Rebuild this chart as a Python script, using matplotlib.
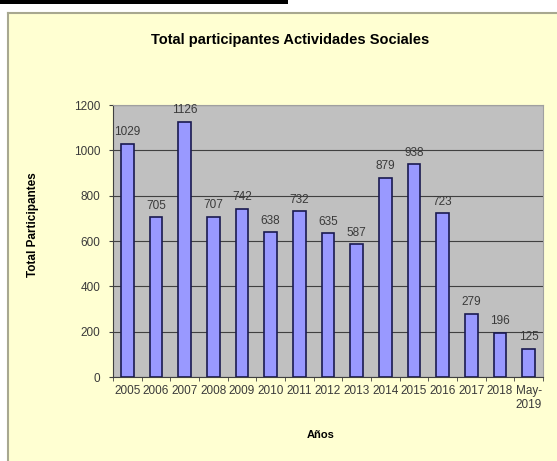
import matplotlib.pyplot as plt
from matplotlib.patches import Rectangle
import numpy as np

plt.rcParams["font.family"] = ["Liberation Sans", "DejaVu Sans"]

years = ["2005", "2006", "2007", "2008", "2009", "2010", "2011", "2012",
         "2013", "2014", "2015", "2016", "2017", "2018", "May-\n2019"]
participantes = [1029, 705, 1126, 707, 742, 638, 732, 635,
                 587, 879, 938, 723, 279, 196, 125]

W, H = 557, 461
fig = plt.figure(figsize=(W / 100, H / 100), dpi=100)
fig.patch.set_facecolor("white")

# chart area background + border
fig.patches.append(Rectangle((8 / W, 0), 1 - 8 / W, 1 - 14 / H,
                             transform=fig.transFigure, facecolor="#FFFFD2",
                             edgecolor="none", zorder=-5))
fig.add_artist(plt.Line2D([7.5 / W, 7.5 / W], [0, 1 - 13.5 / H],
                          transform=fig.transFigure, color="#A8A890", lw=1.5))
fig.add_artist(plt.Line2D([7.5 / W, 1], [1 - 13.5 / H, 1 - 13.5 / H],
                          transform=fig.transFigure, color="#A8A890", lw=1.5))
# black strip at the top
fig.patches.append(Rectangle((0, 1 - 4.5 / H), 288 / W, 4.5 / H,
                             transform=fig.transFigure, facecolor="black",
                             edgecolor="none"))

ax = fig.add_axes([113 / W, 1 - 377 / H, 430 / W, 272 / H])
ax.set_facecolor("#C0C0C0")

x = np.arange(len(years))
ax.bar(x, participantes, width=0.45, color="#9999FF",
       edgecolor="#1A1A50", linewidth=1.2, zorder=3)
for xi, v in zip(x, participantes):
    ax.text(xi, v + 24, str(v), ha="center", va="bottom",
            fontsize=8.5, color="#3A3A3A", zorder=4)

ax.set_xlim(-0.5, len(years) - 0.5)
ax.set_ylim(0, 1200)
ax.set_yticks(range(0, 1201, 200))
ax.yaxis.grid(True, color="#404040", lw=0.8)
ax.set_axisbelow(True)

ax.set_xticks(x)
ax.set_xticklabels(years, fontsize=8.5, color="#3A3A3A", linespacing=1.15)
ax.set_xticks(np.arange(-0.5, len(years)), minor=True)
ax.tick_params(axis="x", which="major", length=0, pad=6)
ax.tick_params(axis="x", which="minor", length=3, color="#404040")
ax.tick_params(axis="y", labelsize=8.5, labelcolor="#3A3A3A", length=3,
               color="#404040", pad=6)

for s in ["top", "right"]:
    ax.spines[s].set_color("#A0A0A0")
for s in ["left", "bottom"]:
    ax.spines[s].set_color("#404040")

fig.text(290 / W, 1 - 40 / H, "Total participantes Actividades Sociales",
         ha="center", va="center", fontsize=10.5, fontweight="bold")
fig.text(33 / W, 1 - 225 / H, "Total Participantes", rotation=90,
         ha="center", va="center", fontsize=8.5, fontweight="bold")
fig.text(321 / W, 1 - 435 / H, "Años", ha="center", va="center",
         fontsize=8, fontweight="bold")

fig.savefig("out.png", dpi=100)
